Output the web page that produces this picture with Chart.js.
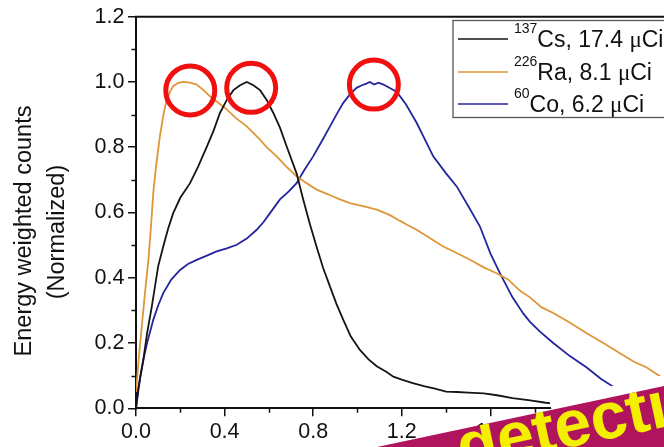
<!DOCTYPE html>
<html>
<head>
<meta charset="utf-8">
<script src="https://cdn.jsdelivr.net/npm/chart.js@4.4.0/dist/chart.umd.min.js"></script>
<style>
  html, body { margin: 0; padding: 0; background: #fff; overflow: hidden; }
  #wrap { width: 664px; height: 447px; position: relative; }
</style>
</head>
<body>
<div id="wrap"><canvas id="c" width="664" height="447"></canvas></div>
<script>
// Normalized energy-weighted count spectra for three sources
const csX = [0, 0.01, 0.033, 0.05, 0.071, 0.10, 0.123, 0.145, 0.168, 0.2, 0.244, 0.28, 0.319, 0.35, 0.379, 0.41, 0.44, 0.47, 0.50, 0.53, 0.56, 0.59, 0.62, 0.65, 0.68, 0.725, 0.755, 0.785, 0.815, 0.845, 0.876, 0.905, 0.936, 0.97, 1.011, 1.05, 1.087, 1.13, 1.162, 1.2, 1.25, 1.3, 1.35, 1.40, 1.45, 1.50, 1.57, 1.63, 1.70, 1.78, 1.85, 1.95, 2.1, 2.25, 2.384];
const csY = [0, 0.06, 0.148, 0.23, 0.31, 0.435, 0.496, 0.55, 0.598, 0.645, 0.69, 0.74, 0.80, 0.85, 0.905, 0.945, 0.975, 0.99, 1.0, 0.99, 0.975, 0.945, 0.905, 0.86, 0.803, 0.72, 0.64, 0.565, 0.496, 0.43, 0.373, 0.32, 0.271, 0.22, 0.179, 0.15, 0.129, 0.112, 0.097, 0.088, 0.077, 0.068, 0.06, 0.051, 0.05, 0.048, 0.046, 0.04, 0.031, 0.024, 0.017, 0.012, 0.008, 0.005, 0.003];

const raX = [0, 0.012, 0.026, 0.04, 0.056, 0.068, 0.078, 0.092, 0.108, 0.124, 0.139, 0.155, 0.168, 0.19, 0.214, 0.245, 0.274, 0.305, 0.334, 0.37, 0.41, 0.45, 0.50, 0.56, 0.59, 0.635, 0.68, 0.725, 0.77, 0.816, 0.87, 0.92, 0.966, 1.02, 1.087, 1.147, 1.19, 1.23, 1.267, 1.33, 1.387, 1.45, 1.508, 1.57, 1.628, 1.68, 1.734, 1.779, 1.83, 1.884, 1.96, 2.035, 2.11, 2.185, 2.25, 2.306, 2.34, 2.384];
const raY = [0.05, 0.15, 0.25, 0.35, 0.455, 0.56, 0.66, 0.75, 0.834, 0.9, 0.946, 0.972, 0.987, 0.997, 1.0, 0.998, 0.992, 0.975, 0.956, 0.937, 0.916, 0.89, 0.864, 0.823, 0.80, 0.772, 0.74, 0.711, 0.69, 0.67, 0.655, 0.64, 0.629, 0.62, 0.609, 0.592, 0.575, 0.56, 0.547, 0.52, 0.496, 0.475, 0.455, 0.432, 0.414, 0.395, 0.36, 0.34, 0.31, 0.292, 0.262, 0.23, 0.2, 0.169, 0.142, 0.125, 0.11, 0.09];

const coX = [0, 0.01, 0.02, 0.033, 0.05, 0.078, 0.1, 0.123, 0.16, 0.199, 0.235, 0.274, 0.32, 0.364, 0.41, 0.455, 0.5, 0.545, 0.575, 0.605, 0.65, 0.69, 0.725, 0.76, 0.80, 0.84, 0.876, 0.905, 0.936, 0.966, 0.996, 1.02, 1.04, 1.056, 1.075, 1.095, 1.117, 1.15, 1.177, 1.22, 1.267, 1.297, 1.342, 1.40, 1.448, 1.50, 1.553, 1.60, 1.643, 1.70, 1.749, 1.779, 1.824, 1.884, 1.959, 2.035, 2.1, 2.155, 2.25, 2.384];
const coY = [0, 0.05, 0.1, 0.148, 0.2, 0.271, 0.315, 0.353, 0.395, 0.424, 0.442, 0.455, 0.468, 0.481, 0.49, 0.501, 0.52, 0.547, 0.57, 0.598, 0.64, 0.665, 0.69, 0.73, 0.772, 0.82, 0.864, 0.9, 0.936, 0.962, 0.982, 0.99, 0.995, 1.0, 0.992, 0.998, 0.992, 0.98, 0.97, 0.93, 0.875, 0.834, 0.772, 0.72, 0.68, 0.62, 0.557, 0.475, 0.414, 0.34, 0.29, 0.265, 0.235, 0.2, 0.16, 0.125, 0.09, 0.066, 0.035, 0.01];

const massNumbers = ['137', '226', '60'];
const elements = ['Cs', 'Ra', 'Co'];
const activities = ['17.4', '8.1', '6.2'];
const seriesColors = ['#151515', '#DE9638', '#24249E'];

// peak markers (data units)
const peakX = [0.52, 0.245, 1.074];
const peakY = [0.982, 0.974, 0.992];

const FONT = "'Liberation Sans', Arial, sans-serif";

const toPoints = (xs, ys) => xs.map((x, i) => ({ x, y: ys[i] }));
const seriesX = [csX, raX, coX];
const seriesY = [csY, raY, coY];

const datasets = elements.map((el, i) => ({
  label: massNumbers[i] + el + ', ' + activities[i] + ' \u03BCCi',
  data: toPoints(seriesX[i], seriesY[i]),
  borderColor: seriesColors[i],
  borderWidth: 1.8,
  pointRadius: 0,
  tension: 0,
  fill: false
}));

const decor = {
  id: 'decor',
  afterDraw(chart) {
    const ctx = chart.ctx;
    const a = chart.chartArea;
    const xs = chart.scales.x, ys = chart.scales.y;
    ctx.save();

    // minor ticks
    ctx.strokeStyle = '#111';
    ctx.lineWidth = 1.5;
    ctx.beginPath();
    for (let v = 0.2; v < xs.max; v += 0.4) {
      const px = Math.round(xs.getPixelForValue(v)) + 0.5;
      ctx.moveTo(px, a.bottom); ctx.lineTo(px, a.bottom + 4.5);
    }
    for (let v = 0.1; v < ys.max; v += 0.2) {
      const py = Math.round(ys.getPixelForValue(v)) + 0.5;
      ctx.moveTo(a.left, py); ctx.lineTo(a.left - 4.5, py);
    }
    ctx.stroke();

    // top frame line
    ctx.lineWidth = 2;
    ctx.beginPath();
    ctx.moveTo(a.left - 1, a.top);
    ctx.lineTo(a.right, a.top);
    ctx.stroke();

    // y title
    ctx.fillStyle = '#111';
    ctx.font = '23.5px ' + FONT;
    ctx.textAlign = 'center';
    ctx.textBaseline = 'middle';
    ctx.save();
    ctx.translate(25, 231);
    ctx.rotate(-Math.PI / 2);
    ctx.fillText('Energy weighted counts', 0, 0);
    ctx.restore();
    ctx.save();
    ctx.translate(58, 232);
    ctx.rotate(-Math.PI / 2);
    ctx.fillText('(Normalized)', 0, 0);
    ctx.restore();

    // peak circles
    ctx.strokeStyle = '#F01010';
    ctx.lineWidth = 5;
    for (let i = 0; i < peakX.length; i++) {
      ctx.beginPath();
      ctx.arc(xs.getPixelForValue(peakX[i]), ys.getPixelForValue(peakY[i]), 24.5, 0, Math.PI * 2);
      ctx.stroke();
    }

    // legend
    const boxL = 453, boxT = 20.5, boxB = 117.5;
    ctx.fillStyle = '#fff';
    ctx.fillRect(boxL, boxT, 664 - boxL + 5, boxB - boxT);
    ctx.strokeStyle = '#555';
    ctx.lineWidth = 1.3;
    ctx.strokeRect(boxL, boxT, 664 - boxL + 5, boxB - boxT);
    const rowY = [39, 72, 104];
    ctx.textAlign = 'left';
    ctx.textBaseline = 'alphabetic';
    for (let i = 0; i < 3; i++) {
      const y = rowY[i];
      ctx.strokeStyle = seriesColors[i];
      ctx.lineWidth = 1.6;
      ctx.beginPath();
      ctx.moveTo(458, y); ctx.lineTo(508, y);
      ctx.stroke();
      ctx.fillStyle = '#111';
      let x = 514;
      ctx.font = '14px ' + FONT;
      ctx.fillText(massNumbers[i], x, y - 6);
      x += ctx.measureText(massNumbers[i]).width;
      ctx.font = '23px ' + FONT;
      const main = elements[i] + ', ' + activities[i] + ' ';
      ctx.fillText(main, x, y + 8);
      x += ctx.measureText(main).width;
      ctx.font = '23px "Liberation Serif", serif';
      ctx.fillText('\u03BC', x, y + 8);
      x += ctx.measureText('\u03BC').width;
      ctx.font = '23px ' + FONT;
      ctx.fillText('Ci', x, y + 8);
    }

    // slide banner overlapping the lower right corner
    const t = Math.tan(12 * Math.PI / 180);
    const M = x => 447 - t * (x - 377);
    ctx.fillStyle = '#fff';
    ctx.beginPath();
    ctx.moveTo(549, M(549) - 11);
    ctx.lineTo(664, M(664) - 11);
    ctx.lineTo(664, M(664) + 2);
    ctx.lineTo(552, M(552) + 2);
    ctx.closePath();
    ctx.fill();
    ctx.fillStyle = '#B0145C';
    ctx.beginPath();
    ctx.moveTo(377, 447);
    ctx.lineTo(664, M(664));
    ctx.lineTo(664, 447);
    ctx.closePath();
    ctx.fill();
    ctx.save();
    ctx.beginPath();
    ctx.moveTo(377, 447);
    ctx.lineTo(664, M(664));
    ctx.lineTo(664, 447);
    ctx.closePath();
    ctx.clip();
    ctx.translate(462, 470);
    ctx.rotate(-12 * Math.PI / 180);
    ctx.fillStyle = '#F4EE00';
    ctx.font = 'bold 66px ' + FONT;
    ctx.textAlign = 'left';
    ctx.textBaseline = 'alphabetic';
    ctx.fillText('detection', 0, 0);
    ctx.restore();

    ctx.restore();
  }
};

new Chart(document.getElementById('c'), {
  type: 'line',
  data: { datasets },
  options: {
    responsive: false,
    animation: false,
    devicePixelRatio: 1,
    layout: { padding: { top: 16.7, right: 0, left: 0, bottom: 0 } },
    plugins: { legend: { display: false }, tooltip: { enabled: false } },
    scales: {
      x: {
        type: 'linear',
        min: 0,
        max: 2.384,
        ticks: {
          stepSize: 0.4,
          includeBounds: false,
          autoSkip: false,
          maxRotation: 0,
          color: '#111',
          padding: 3,
          font: { family: FONT, size: 21.5 },
          callback: v => v.toFixed(1)
        },
        grid: { drawOnChartArea: false, tickLength: 8, color: '#111', lineWidth: 1.5 },
        border: { color: '#111', width: 2 },
        afterFit(s) { s.height = 447 - 408.3; }
      },
      y: {
        min: 0,
        max: 1.2,
        ticks: {
          stepSize: 0.2,
          color: '#111',
          padding: 3.5,
          font: { family: FONT, size: 21.5 },
          callback: v => v.toFixed(1)
        },
        grid: { drawOnChartArea: false, tickLength: 8, color: '#111', lineWidth: 1.5 },
        border: { color: '#111', width: 2 },
        afterFit(s) { s.width = 136; }
      }
    }
  },
  plugins: [decor]
});
</script>
</body>
</html>
